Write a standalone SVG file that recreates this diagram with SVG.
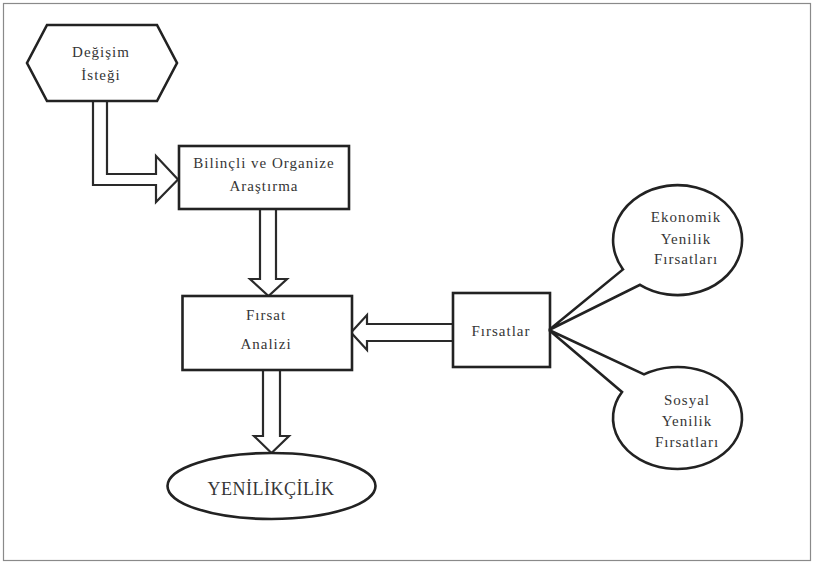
<svg xmlns="http://www.w3.org/2000/svg" width="813" height="562" viewBox="0 0 813 562">
  <style>
    .shape { fill: #ffffff; stroke: #222222; stroke-width: 2.6; stroke-linejoin: miter; }
    .arrow { fill: #ffffff; stroke: #2a2a2a; stroke-width: 2.2; stroke-linejoin: miter; }
    text { font-family: "Liberation Serif", "DejaVu Serif", serif; font-size: 15px; fill: #363636; text-anchor: middle; letter-spacing: 1px; }
    .big { font-size: 18px; letter-spacing: 0.5px; }
  </style>

  <!-- page frame -->
  <rect x="3.5" y="3.5" width="807" height="557" fill="#ffffff" stroke="#8a8a8a" stroke-width="1.2"/>

  <!-- hollow block arrows -->
  <g id="connectors">
    <polygon class="arrow" points="93,101 93,185 156,185 156,202 178,179.5 156,156 156,174 107,174 107,101"/>
    <polygon class="arrow" points="260,209 260,279 250,279 268.5,296 287,279 276,279 276,209"/>
    <polygon class="arrow" points="453,324 367,324 367,315 351,332.5 367,350 367,341 453,341"/>
    <polygon class="arrow" points="263,370 263,436 254,436 271.5,453 289,436 280,436 280,370"/>
  </g>

  <g id="degisim-istegi">
    <polygon class="shape" points="47,25 157,25 177,63 157,101 47,101 27,63"/>
    <text x="101" y="57">Değişim</text>
    <text x="101" y="80">İsteği</text>
  </g>

  <g id="arastirma">
    <rect class="shape" x="179" y="146" width="170" height="63"/>
    <text x="264" y="168">Bilinçli ve Organize</text>
    <text x="264" y="191">Araştırma</text>
  </g>

  <g id="firsat-analizi">
    <rect class="shape" x="182.5" y="296" width="169.5" height="74"/>
    <text x="266" y="320">Fırsat</text>
    <text x="266" y="349">Analizi</text>
  </g>

  <g id="firsatlar">
    <rect class="shape" x="453" y="293" width="97" height="74"/>
    <text x="501" y="336">Fırsatlar</text>
  </g>

  <g id="yenilikcilik">
    <ellipse class="shape" cx="271.5" cy="486" rx="104" ry="33"/>
    <text class="big" x="271" y="495">YENİLİKÇİLİK</text>
  </g>

  <!-- callout bubbles: ellipse outline opening into a tail that meets the Fırsatlar box -->
  <g id="ekonomik-yenilik">
    <path class="shape" d="M549,330 L623,269.4 A64.5,55 0 1 1 640,284.8 Z"/>
    <text x="686" y="222">Ekonomik</text>
    <text x="686" y="244">Yenilik</text>
    <text x="686" y="264">Fırsatları</text>
  </g>

  <g id="sosyal-yenilik">
    <path class="shape" d="M549,330 L644,374.4 A64.5,51 0 1 1 622,392 Z"/>
    <text x="687" y="405">Sosyal</text>
    <text x="687" y="426">Yenilik</text>
    <text x="687" y="447">Fırsatları</text>
  </g>
</svg>
